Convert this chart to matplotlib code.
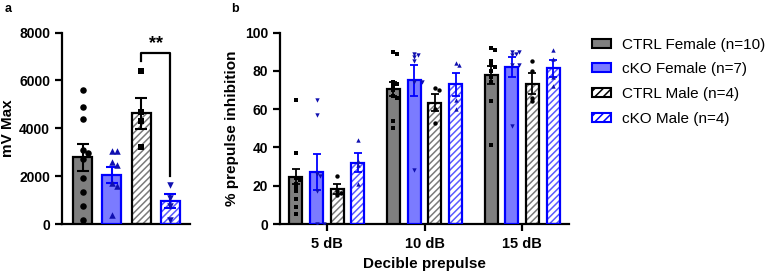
import numpy as np
import matplotlib.pyplot as plt
import matplotlib.patches as mpatches

plt.rcParams['font.family'] = ['Liberation Sans', 'DejaVu Sans']
plt.rcParams['hatch.linewidth'] = 1.1

# ---- data, panel a (mV Max) ----
groups = ['CTRL Female (n=10)', 'cKO Female (n=7)', 'CTRL Male (n=4)', 'cKO Male (n=4)']
a_mean = [2780, 2060, 4620, 950]
a_sem = [570, 330, 660, 300]
a_pts = [
    [5580, 4880, 4390, 3100, 2960, 2710, 1920, 1320, 770, 170],
    [3060, 3060, 2610, 2450, 1710, 1570, 380],
    [6390, 4670, 4290, 3220],
    [1610, 1080, 760, 170],
]

# ---- data, panel b (% prepulse inhibition) ----
db_labels = ['5 dB', '10 dB', '15 dB']
b_mean = [
    [24.8, 70.5, 77.7],
    [27.0, 75.0, 82.0],
    [18.2, 63.4, 73.3],
    [32.0, 73.0, 81.3],
]
b_sem = [
    [4.0, 3.8, 4.6],
    [9.5, 8.0, 5.3],
    [2.5, 4.4, 5.3],
    [5.0, 6.0, 4.5],
]
b_pts = [
    [[65, 37, 24, 23, 21, 19, 17, 13, 9, 5],
     [90, 89, 74, 73, 72, 70, 67, 66, 54, 50],
     [92, 91, 85, 83, 82, 80, 77, 74, 64, 41]],
    [[65, 57, 26, 25, 17, 0, 0],
     [89, 88, 87, 85, 74, 74, 28],
     [90, 90, 89, 88, 83, 83, 51]],
    [[25, 17, 16, 15],
     [71, 70, 60, 53],
     [85, 80, 66, 64]],
    [[44, 33, 31, 21],
     [84, 83, 65, 60],
     [91, 86, 77, 72]],
]

face = ['#7f7f7f', '#7b7bff', 'white', 'white']
edge = ['black', '#0000ff', 'black', '#0000ff']
hatch = [None, None, '/////', '/////']
hatch_col = [None, None, '#7a7a7a', '#5a5aff']
pt_col = ['black', '#1010b0', 'black', '#1010b0']
mk_a = ['o', '^', 's', 'v']
mk_b = ['s', 'v', 'o', '^']


def swarm(ax, x, ys, size_px):
    # simple beeswarm: shift points sideways so markers don't overlap
    placed = []
    xs = []
    tr = ax.transData
    for y in ys:
        px, py = tr.transform((x, y))
        for k in [0, 1, -1, 2, -2, 3, -3]:
            cx = px + k * size_px * 0.9
            if all(np.hypot(cx - qx, py - qy) >= size_px * 0.9 for qx, qy in placed):
                break
        placed.append((cx, py))
        xs.append(tr.inverted().transform((cx, py))[0])
    return xs


def draw_bar(ax, x, h, w, i, lw):
    if hatch[i]:
        ax.bar(x, h, w, color='white', edgecolor=hatch_col[i], hatch=hatch[i], linewidth=0, zorder=2)
        ax.bar(x, h, w, fill=False, edgecolor=edge[i], linewidth=lw, zorder=3)
    else:
        ax.bar(x, h, w, color=face[i], edgecolor=edge[i], linewidth=lw, zorder=3)


fig = plt.figure(figsize=(7.68, 2.73), dpi=100)
axa = fig.add_axes([62 / 768, 49 / 273, 128 / 768, 191.5 / 273])
axb = fig.add_axes([280 / 768, 49 / 273, 289 / 768, 191.5 / 273])

for ax in (axa, axb):
    ax.spines['top'].set_visible(False)
    ax.spines['right'].set_visible(False)
    ax.spines['left'].set_linewidth(1.6)
    ax.spines['bottom'].set_linewidth(1.6)
    ax.tick_params(width=1.6, length=5, labelsize=10)

# ---- panel a ----
axa.set_xlim(-0.7, 3.67)
axa.set_ylim(0, 8000)
axa.set_yticks([0, 2000, 4000, 6000, 8000])
axa.set_yticklabels(['0', '2000', '4000', '6000', '8000'], fontweight='bold')
axa.set_xticks([])
axa.set_ylabel('mV Max', fontsize=11, fontweight='bold', labelpad=3)
for i in range(4):
    draw_bar(axa, i, a_mean[i], 0.65, i, 1.6)
    axa.errorbar(i, a_mean[i], yerr=a_sem[i], color=edge[i] if i % 2 else 'black',
                 capsize=4, elinewidth=1.5, capthick=1.5, zorder=4)
    xs = swarm(axa, i, a_pts[i], 6)
    axa.scatter(xs, a_pts[i], marker=mk_a[i], s=22, color=pt_col[i], zorder=5, linewidths=0)

# significance bracket
axa.plot([2, 2, 3, 3], [6810, 7160, 7160, 2020], color='black', lw=1.6, zorder=6)
axa.text(2.5, 7200, '**', ha='center', va='bottom', fontsize=13, fontweight='bold')

# ---- panel b ----
axb.set_xlim(-0.48, 2.48)
axb.set_ylim(0, 100)
axb.set_yticks([0, 20, 40, 60, 80, 100])
axb.set_yticklabels(['0', '20', '40', '60', '80', '100'], fontweight='bold')
axb.set_xticks(range(3))
axb.set_xticklabels(db_labels, fontsize=10.5, fontweight='bold')
axb.tick_params(axis='x', pad=4)
axb.set_ylabel('% prepulse inhibition', fontsize=11, fontweight='bold', labelpad=4)
axb.set_xlabel('Decible prepulse', fontsize=11, fontweight='bold', labelpad=5)
offs = [-0.318, -0.106, 0.106, 0.318]
for i in range(4):
    for g in range(3):
        x = g + offs[i]
        draw_bar(axb, x, b_mean[i][g], 0.133, i, 1.6)
        axb.errorbar(x, b_mean[i][g], yerr=b_sem[i][g], color=edge[i] if i % 2 else 'black',
                     capsize=3, elinewidth=1.3, capthick=1.3, zorder=4)
        xs = swarm(axb, x, b_pts[i][g], 4.2)
        axb.scatter(xs, b_pts[i][g], marker=mk_b[i], s=10, color=pt_col[i], zorder=5, linewidths=0)

# panel letters
fig.text(5 / 768, 1 - 9 / 273, 'a', fontsize=9, fontweight='bold', va='center')
fig.text(231 / 768, 1 - 9 / 273, 'b', fontsize=9, fontweight='bold', va='center')

# legend
handles = []
for i in range(4):
    if hatch[i]:
        handles.append(mpatches.Patch(facecolor='white', edgecolor=edge[i], hatch='////', linewidth=1.5))
    else:
        handles.append(mpatches.Patch(facecolor=face[i], edgecolor=edge[i], linewidth=1.5))
fig.legend(handles, groups, loc='upper left', bbox_to_anchor=(587 / 768, 1 - 33 / 273),
           frameon=False, fontsize=11, handlelength=1.3, handleheight=0.55,
           labelspacing=0.7, handletextpad=0.7, borderaxespad=0, borderpad=0.3)

fig.savefig('out.png', dpi=100)
